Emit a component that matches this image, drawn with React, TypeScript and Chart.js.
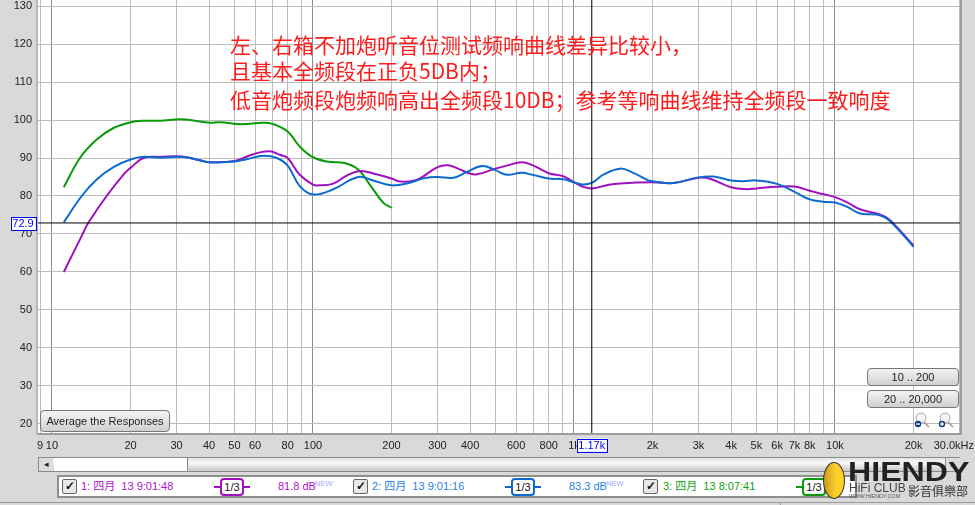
import React, { useEffect, useRef } from "react";
import { Chart, registerables } from "chart.js";

Chart.register(...registerables);

const freqPurple = [11.1, 13, 13.8, 16.2, 19, 20, 22.4, 26, 31.4, 36.9, 40, 50, 59, 68, 75, 80, 89, 100, 105, 119, 135, 152, 175, 200, 215, 249, 300, 329, 365, 400, 425, 500, 552, 631, 699, 800, 910, 1000, 1086, 1175, 1345, 1500, 2000, 2400, 3000, 3300, 4000, 4590, 5000, 6000, 7000, 8000, 9000, 10000, 11090, 12470, 14450, 15770, 17200, 20000];
const dbPurple = [60, 69.5, 73, 80, 86, 87.4, 90, 90.3, 90.4, 89.4, 88.9, 89.2, 91, 91.8, 90.8, 90, 85.6, 83, 82.8, 83.2, 85.4, 86.6, 85.7, 84.6, 83.8, 84.2, 87.6, 88.1, 87, 85.9, 85.7, 87.2, 88, 88.9, 88, 86, 85.2, 83.6, 82.4, 82, 82.9, 83.3, 83.6, 83.4, 84.8, 84.6, 82.3, 81.8, 82, 82.4, 82.5, 81.4, 80.5, 79.7, 78.4, 76.5, 75.4, 74.3, 71.9, 66.9];

const freqBlue = [11.1, 13, 14.8, 17.2, 20, 22.4, 26, 30, 33.8, 40, 50, 55.7, 64.6, 72.6, 80, 89, 100, 119, 149, 170, 200, 235, 268, 300, 345, 388, 445, 500, 552, 631, 699, 800, 910, 1000, 1086, 1175, 1295, 1500, 1686, 1926, 2000, 2400, 3000, 3420, 4000, 4460, 5000, 6000, 7000, 8000, 9000, 10000, 11090, 12470, 14450, 15770, 17200, 20000];
const dbBlue = [73.1, 80, 84.3, 87.6, 89.6, 90.3, 90.1, 90.3, 90, 88.9, 89.1, 89.7, 90.6, 90, 88, 82.6, 80.4, 81.7, 85, 84.1, 82.8, 83.5, 84.7, 85, 84.8, 86.3, 87.9, 86.8, 85.6, 86.1, 85.5, 84.6, 84.4, 83.6, 83, 83.5, 85.6, 87.2, 86.1, 84.1, 83.9, 83.4, 84.9, 85.1, 84.1, 83.9, 84.1, 83.2, 81.1, 79.1, 78.5, 78.3, 77.2, 75.4, 75.1, 74.1, 71.7, 66.6];

const freqGreen = [11.1, 12.8, 14.8, 17.2, 20, 22.4, 26, 31.4, 40, 44, 53.3, 64.6, 70, 80, 89, 100, 115, 132, 149, 165, 186, 200];
const dbGreen = [82.3, 90, 94.8, 97.9, 99.4, 99.8, 99.8, 100.2, 99.3, 99.4, 98.9, 99.3, 99, 97, 93, 90.2, 89, 88.7, 87, 83, 78.2, 76.9];

const xTicks = [9, 10, 20, 30, 40, 50, 60, 70, 80, 90, 100, 200, 300, 400, 500, 600, 700, 800, 900, 1000, 2000, 3000, 4000, 5000, 6000, 7000, 8000, 9000, 10000, 20000, 30000];
const xLabelled: Record<number, string> = { 9: "9", 10: "10", 20: "20", 30: "30", 40: "40", 50: "50", 60: "60", 80: "80", 100: "100", 200: "200", 300: "300", 400: "400", 600: "600", 800: "800", 1000: "1k", 2000: "2k", 3000: "3k", 4000: "4k", 5000: "5k", 6000: "6k", 7000: "7k", 8000: "8k", 10000: "10k", 20000: "20k" };
const yTicks = [20, 30, 40, 50, 60, 70, 80, 90, 100, 110, 120, 130];

const xMin = 8.84;
const xMax = 30130;
const yMin = 17.6;
const yMax = 131.6;
const cursorFreq = 1170;
const cursorDb = 72.9;
const cursorFreqLabel = "1.17k";
const cursorDbLabel = "72.9";
const endLabel = "30.0kHz";

const noteLines = [
  "左、右箱不加炮听音位测试频响曲线差异比较小，",
  "且基本全频段在正负5DB内；",
  "低音炮频段炮频响高出全频段10DB；参考等响曲线维持全频段一致响度",
];

const legendRows = [
  { name: "1: 四月  13 9:01:48", level: "81.8 dB", color: "#b012cc", badge: "#a010c0", check: 62, text: 81, badgeX: 220, levelX: 278 },
  { name: "2: 四月  13 9:01:16", level: "83.3 dB", color: "#1f7fe8", badge: "#0a6ad0", check: 353, text: 372, badgeX: 511, levelX: 569 },
  { name: "3: 四月  13 8:07:41", level: "", color: "#12a012", badge: "#0a9a0a", check: 643, text: 663, badgeX: 802, levelX: 0 },
];

const FONT = '"Liberation Sans", Arial, sans-serif';
const zip = (xs: number[], ys: number[]) => xs.map((x, i) => ({ x, y: ys[i] }));

const frame = {
  id: "frame",
  beforeDraw(chart: any) {
    const { ctx, chartArea: a } = chart;
    ctx.save();
    ctx.fillStyle = "#ffffff";
    ctx.fillRect(a.left, a.top, a.right - a.left, a.bottom - a.top);
    ctx.restore();
  },
  afterDraw(chart: any) {
    const { ctx, chartArea: a, scales } = chart;
    ctx.save();
    ctx.fillStyle = "#9c9c9c";
    ctx.fillRect(a.right, a.top, 2, a.bottom - a.top + 2);
    ctx.fillRect(a.left, a.bottom, a.right - a.left + 2, 2);
    ctx.fillStyle = "#b8b8b8";
    ctx.fillRect(a.left - 2, a.top, 2, a.bottom - a.top + 2);
    ctx.font = `11px ${FONT}`;
    ctx.textBaseline = "middle";
    const box = (label: string, cx: number, cy: number, w: number, h: number) => {
      ctx.fillStyle = "#ffffff";
      ctx.fillRect(cx - w / 2, cy - h / 2, w, h);
      ctx.strokeStyle = "#0000ff";
      ctx.lineWidth = 1;
      ctx.strokeRect(Math.round(cx - w / 2) + 0.5, Math.round(cy - h / 2) + 0.5, w, h);
      ctx.fillStyle = "#0000ff";
      ctx.textAlign = "center";
      ctx.fillText(label, cx, cy + 0.5);
    };
    box(cursorDbLabel, 23, scales.y.getPixelForValue(cursorDb) + 1, 25, 13);
    box(cursorFreqLabel, scales.x.getPixelForValue(cursorFreq), 445, 30, 13);
    ctx.fillStyle = "#222222";
    ctx.textAlign = "right";
    ctx.fillText(endLabel, 974, 445.5);
    ctx.restore();
  },
};

function Btn({ x, y, w, h, label }: { x: number; y: number; w: number; h: number; label: string }) {
  return (
    <div style={{ position: "absolute", left: x, top: y, width: w, height: h, boxSizing: "border-box", border: "1px solid #777", borderRadius: 4, background: "linear-gradient(#f4f4f4,#d0d0d0)", font: `11px ${FONT}`, color: "#222", textAlign: "center", lineHeight: `${h - 2}px` }}>{label}</div>
  );
}

function Magnifier({ x, sign }: { x: number; sign: string }) {
  return (
    <svg style={{ position: "absolute", left: x, top: 411 }} width="16" height="18">
      <line x1="9" y1="10" x2="15" y2="16" stroke="#999" strokeWidth="1.5" />
      <circle cx="7" cy="7" r="5" fill="#f4f4f4" stroke="#aaa" />
      <circle cx="4" cy="13" r="3.2" fill="#123a8c" />
      <rect x="2" y="12.4" width="4" height="1.3" fill="#fff" />
      {sign === "+" ? <rect x="3.4" y="11" width="1.3" height="4" fill="#fff" /> : null}
    </svg>
  );
}

export default function App() {
  const ref = useRef<HTMLCanvasElement>(null);
  useEffect(() => {
    const line = (label: string, data: any[], borderColor: string, borderWidth = 2, tension = 0.4) => ({
      label, data, borderColor, borderWidth, tension, pointRadius: 0, fill: false,
    });
    const chart = new Chart(ref.current!, {
      type: "line",
      data: {
        datasets: [
          line("cursor dB", [{ x: xMin, y: cursorDb }, { x: xMax, y: cursorDb }], "#000000", 1, 0),
          line("cursor Hz", [{ x: cursorFreq, y: yMin }, { x: cursorFreq, y: yMax }], "#000000", 1, 0),
          line("2", zip(freqBlue, dbBlue), "#0a6ad0"),
          line("1", zip(freqPurple, dbPurple), "#a010c0"),
          line("3", zip(freqGreen, dbGreen), "#0a9a0a"),
        ],
      },
      options: {
        animation: false,
        responsive: false,
        layout: { padding: { left: 0, right: 15, top: 0, bottom: 0 } },
        plugins: { legend: { display: false }, tooltip: { enabled: false } },
        scales: {
          x: {
            type: "logarithmic",
            min: xMin,
            max: xMax,
            afterBuildTicks: (s: any) => { s.ticks = xTicks.map((value) => ({ value })); },
            afterFit: (s: any) => { s.height = 72; s.paddingLeft = 0; s.paddingRight = 0; },
            border: { display: false },
            grid: {
              drawTicks: false,
              lineWidth: 1,
              color: (c: any) => ([10, 100, 1000, 10000].includes(c.tick?.value) ? "#8c8c8c" : "#bcbcbc"),
            },
            ticks: {
              autoSkip: false,
              maxRotation: 0,
              padding: 6,
              color: "#222222",
              font: { family: FONT, size: 11 },
              callback: (v: any) => xLabelled[Number(v)] ?? "",
            },
          },
          y: {
            type: "linear",
            min: yMin,
            max: yMax,
            afterBuildTicks: (s: any) => { s.ticks = yTicks.map((value) => ({ value })); },
            afterFit: (s: any) => { s.width = 38; s.paddingTop = 0; s.paddingBottom = 0; },
            border: { display: false },
            grid: { drawTicks: false, lineWidth: 1, color: "#bcbcbc" },
            ticks: {
              autoSkip: false,
              padding: 6,
              color: "#222222",
              font: { family: FONT, size: 11 },
              callback: (v: any) => String(v),
            },
          },
        },
      },
      plugins: [frame],
    } as any);
    return () => chart.destroy();
  }, []);

  return (
    <div style={{ position: "fixed", left: 0, top: 0, width: 975, height: 505, overflow: "hidden", background: "#d9d9d9" }}>
      <canvas ref={ref} width={975} height={505} style={{ position: "absolute", left: 0, top: 0, display: "block" }} />

      <div style={{ position: "absolute", left: 230, top: 31, width: 730, color: "#ff1c1c", font: '21px "Noto Sans CJK SC", sans-serif', whiteSpace: "nowrap" }}>
        <div style={{ height: 26, lineHeight: "27px" }}>{noteLines[0]}</div>
        <div style={{ height: 28, lineHeight: "27px" }}>{noteLines[1]}</div>
        <div style={{ height: 28, lineHeight: "28px" }}>{noteLines[2]}</div>
      </div>

      <Btn x={40} y={410} w={130} h={22} label="Average the Responses" />
      <Btn x={867} y={368} w={92} h={18} label="10 .. 200" />
      <Btn x={867} y={390} w={92} h={18} label="20 .. 20,000" />
      <Magnifier x={914} sign="-" />
      <Magnifier x={938} sign="+" />

      {/* scrollbar */}
      <div style={{ position: "absolute", left: 38, top: 457, width: 922, height: 15, boxSizing: "border-box", border: "1px solid #8a8a8a", background: "linear-gradient(#e4e4e4,#f8f8f8 40%,#c8c8c8)" }} />
      <div style={{ position: "absolute", left: 39, top: 458, width: 14, height: 13, background: "#dcdcdc", color: "#222", font: `9px ${FONT}`, textAlign: "center", lineHeight: "13px" }}>◂</div>
      <div style={{ position: "absolute", left: 945, top: 458, width: 14, height: 13, background: "#dcdcdc", borderLeft: "1px solid #8a8a8a", color: "#222", font: `9px ${FONT}`, textAlign: "center", lineHeight: "13px" }}>▸</div>
      <div style={{ position: "absolute", left: 54, top: 458, width: 133, height: 13, background: "#ffffff", borderRight: "1px solid #888" }} />

      {/* legend row */}
      <div style={{ position: "absolute", left: 57, top: 475, width: 800, height: 23, boxSizing: "border-box", border: "2px solid #8f8f8f", background: "#ffffff" }} />
      <div style={{ position: "absolute", left: 0, top: 502, width: 975, height: 1, background: "#9a9a9a" }} />
      <div style={{ position: "absolute", left: 780, top: 503, width: 1, height: 2, background: "#9a9a9a" }} />
      {legendRows.map((r) => (
        <React.Fragment key={r.name}>
          <div style={{ position: "absolute", left: r.check, top: 479, width: 13, height: 13, border: "1px solid #666", borderRadius: 2, background: "#e8e8e8", color: "#111", font: `bold 12px ${FONT}`, textAlign: "center", lineHeight: "13px" }}>✓</div>
          <div style={{ position: "absolute", left: r.text, top: 479, color: r.color, font: `11px ${FONT}, "Noto Sans CJK SC"`, lineHeight: "15px", whiteSpace: "pre" }}>{r.name}</div>
          <div style={{ position: "absolute", left: r.badgeX - 6, top: 486, width: 36, height: 2, background: r.badge }} />
          <div style={{ position: "absolute", left: r.badgeX, top: 478, width: 24, height: 18, boxSizing: "border-box", border: `2px solid ${r.badge}`, borderRadius: 4, background: "#fff", color: "#111", font: `11px ${FONT}`, textAlign: "center", lineHeight: "14px" }}>1/3</div>
          {r.level ? (
            <>
              <div style={{ position: "absolute", left: r.levelX, top: 479, color: r.color, font: `11px ${FONT}`, lineHeight: "15px" }}>{r.level}</div>
              <div style={{ position: "absolute", left: r.levelX + 37, top: 478, color: "#a9a9ff", font: `7.5px ${FONT}`, lineHeight: "12px" }}>NEW</div>
            </>
          ) : null}
        </React.Fragment>
      ))}

      {/* watermark */}
      <div style={{ position: "absolute", left: 823, top: 462, width: 22, height: 37, borderRadius: "50%", background: "linear-gradient(90deg,#c99a20,#ffcf2a 60%)", border: "1px solid #333", boxSizing: "border-box" }} />
      <div style={{ position: "absolute", left: 848, top: 458, color: "#222", font: `bold 27px ${FONT}`, lineHeight: "28px", transform: "scaleX(1.19)", transformOrigin: "left" }}>HIENDY</div>
      <div style={{ position: "absolute", left: 849, top: 483, color: "#444", font: `12px ${FONT}`, lineHeight: "11px" }}>HiFi CLUB</div>
      <div style={{ position: "absolute", left: 849, top: 493, color: "#555", font: `5.5px ${FONT}`, lineHeight: "7px" }}>WWW.HIENDY.COM</div>
      <div style={{ position: "absolute", left: 908, top: 483, color: "#333", font: '12px "Noto Sans CJK TC"', lineHeight: "16px" }}>影音俱樂部</div>
    </div>
  );
}
